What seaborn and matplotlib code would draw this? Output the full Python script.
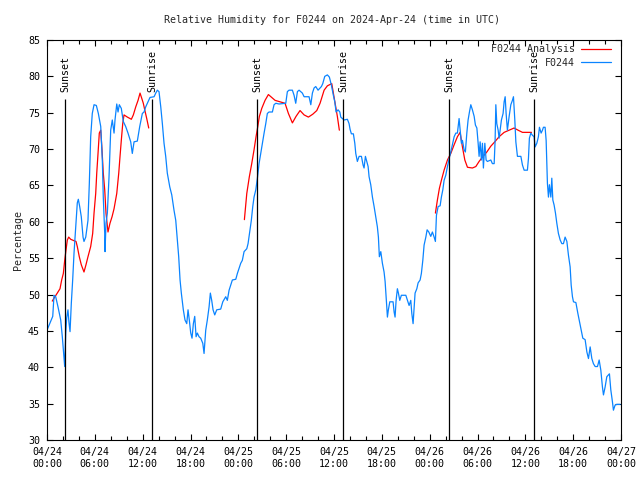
import matplotlib
matplotlib.use("Agg")
import matplotlib.pyplot as plt
import matplotlib.dates as mdates
import numpy as np
import pandas as pd
import seaborn as sns

# ---------------- data ----------------
start_time = "2024-04-24 00:00"   # UTC; times below are hours after this

# F0244 observations
blue_hours = [0.00, 0.38, 0.72, 0.88, 1.09, 1.38, 1.72, 1.92, 2.13, 2.22, 2.35, 2.47, 2.63, 2.76, 2.89,
              3.05, 3.22, 3.39, 3.60, 3.80, 3.93, 4.10, 4.30, 4.52, 4.64, 4.86, 5.14, 5.31, 5.48, 5.68,
              5.90, 6.19, 6.44, 6.74, 6.94, 7.06, 7.24, 7.28, 7.40, 7.57, 7.78, 7.99, 8.19, 8.41, 8.53,
              8.75, 8.91, 9.07, 9.32, 9.57, 9.87, 10.16, 10.50, 10.70, 10.92, 11.33, 11.63, 11.96, 12.17,
              12.38, 12.67, 12.92, 13.43, 13.64, 13.84, 14.05, 14.27, 14.47, 14.68, 14.89, 15.09, 15.40,
              15.65, 15.93, 16.15, 16.35, 16.52, 16.69, 16.85, 17.10, 17.31, 17.53, 17.69, 17.85, 18.03,
              18.19, 18.36, 18.53, 18.70, 18.86, 19.07, 19.28, 19.54, 19.70, 19.91, 20.11, 20.33, 20.49,
              20.66, 20.83, 21.04, 21.29, 21.79, 22.05, 22.42, 22.62, 22.84, 23.05, 23.25, 23.68, 23.88,
              24.09, 24.30, 24.50, 24.72, 25.06, 25.22, 25.47, 25.63, 25.81, 25.97, 26.19, 26.39, 26.60,
              26.81, 27.01, 27.23, 27.44, 27.64, 27.85, 28.27, 28.48, 28.70, 29.11, 29.95, 30.15, 30.36,
              30.78, 30.99, 31.20, 31.41, 31.62, 32.03, 32.25, 32.87, 33.09, 33.29, 33.50, 33.71, 34.00,
              34.42, 34.59, 34.84, 35.17, 35.42, 35.67, 35.92, 36.10, 36.26, 36.51, 36.73, 36.85, 37.05,
              37.26, 37.68, 37.89, 38.02, 38.18, 38.43, 38.61, 38.73, 38.93, 39.15, 39.44, 39.65, 39.77,
              39.94, 40.11, 40.28, 40.40, 40.61, 40.82, 41.03, 41.24, 41.44, 41.57, 41.69, 41.87, 42.07,
              42.28, 42.41, 42.53, 42.62, 42.70, 42.82, 43.00, 43.41, 43.54, 43.66, 43.79, 43.95, 44.08,
              44.25, 44.45, 45.01, 45.21, 45.42, 45.63, 45.76, 45.92, 46.05, 46.17, 46.39, 46.55, 46.80,
              46.96, 47.14, 47.30, 47.52, 47.68, 47.89, 48.14, 48.34, 48.56, 48.72, 48.85, 49.06, 49.31,
              49.47, 49.65, 49.81, 50.02, 50.23, 50.44, 50.65, 50.85, 51.07, 51.28, 51.48, 51.69, 51.82,
              51.98, 52.11, 52.32, 52.48, 52.66, 52.82, 52.99, 53.16, 53.36, 53.58, 53.74, 53.92, 54.08,
              54.20, 54.33, 54.49, 54.62, 54.74, 54.92, 55.08, 55.24, 55.67, 55.87, 56.09, 56.21, 56.30,
              56.42, 56.59, 56.71, 56.84, 57.00, 57.21, 57.34, 57.47, 57.59, 57.75, 57.97, 58.18, 58.38,
              58.51, 58.68, 58.81, 59.01, 59.44, 59.64, 59.85, 60.26, 60.39, 60.51, 60.69, 60.89, 61.10,
              61.23, 61.44, 61.64, 61.77, 61.98, 62.15, 62.27, 62.48, 62.61, 62.70, 62.77, 62.90, 63.02,
              63.20, 63.32, 63.45, 63.61, 63.78, 63.95, 64.15, 64.37, 64.58, 64.78, 64.99, 65.21, 65.41,
              65.62, 65.75, 65.91, 66.04, 66.34, 66.59, 66.79, 67.00, 67.21, 67.50, 67.72, 67.92, 68.13,
              68.34, 68.54, 68.76, 69.05, 69.26, 69.47, 69.67, 69.80, 70.01, 70.22, 70.55, 70.72, 70.92,
              71.05, 71.26, 71.48, 71.89]
blue_values = [45.1, 46.1, 47.0, 49.9, 49.7, 48.3, 46.5, 44.2, 41.4, 40.1, 44.7, 46.8, 47.9, 46.1, 44.9,
               48.8, 52.0, 55.7, 59.3, 62.6, 63.1, 62.1, 60.7, 57.9, 57.3, 57.9, 60.2, 65.3, 71.7, 74.9,
               76.1, 76.0, 74.9, 73.1, 68.5, 63.4, 58.4, 55.9, 59.8, 61.2, 66.2, 72.6, 74.0, 72.2, 74.0,
               76.2, 75.1, 76.1, 75.6, 73.8, 73.1, 72.2, 71.0, 69.4, 71.0, 71.1, 73.1, 74.9, 75.1,
               75.8, 76.5, 77.1, 77.2, 77.7, 78.1, 77.9, 75.8, 73.5, 70.8, 69.0, 66.7, 64.8,
               63.7, 61.6, 60.2, 57.5, 55.2, 52.0, 50.2, 47.9, 46.5, 46.0, 47.9, 46.5, 44.7,
               44.0, 46.0, 47.0, 44.2, 44.7, 44.2, 44.0, 43.3, 41.9, 45.1, 46.5, 48.3, 50.2,
               49.2, 47.9, 47.2, 47.9, 48.0, 49.0, 49.7, 49.2, 50.6, 51.3, 52.0, 52.1, 52.9,
               53.6, 54.3, 54.7, 55.9, 56.3, 57.0, 58.9, 60.2, 62.1, 63.4, 64.4, 66.0, 68.0,
               69.4, 70.8, 72.2, 73.5, 74.9, 75.1, 75.1, 76.1, 76.3, 76.2, 76.3, 77.9, 78.1,
               78.1, 77.4, 76.3, 77.9, 78.1, 77.7, 77.2, 77.2, 76.1, 77.7, 78.4, 78.6, 78.1,
               78.6, 79.0, 80.0, 80.2, 79.9, 78.8, 77.4, 76.5, 75.1, 75.4, 75.1, 74.4, 74.2,
               74.0, 74.1, 73.5, 72.7, 72.1, 72.1, 70.8, 69.4, 68.3, 69.0, 69.0, 67.8, 67.4,
               69.0, 68.3, 67.6, 66.2, 65.1, 63.4, 62.1, 60.7, 59.3, 57.9, 55.2, 55.9, 54.3,
               53.1, 51.8, 49.9, 48.3, 46.9, 47.9, 49.0, 49.0, 47.6, 46.9, 49.2, 50.8, 50.2,
               49.2, 49.9, 49.9, 49.2, 48.5, 49.2, 47.4, 46.0, 48.3, 50.2, 50.8, 51.6, 52.0,
               52.9, 54.7, 56.8, 57.9, 58.9, 58.6, 58.0, 58.6, 57.9, 57.3, 60.9, 62.1, 62.2,
               63.4, 64.4, 65.7, 66.4, 67.6, 68.7, 69.6, 70.6, 71.7, 72.2, 72.2, 74.2, 72.6,
               70.8, 71.2, 69.9, 69.6, 72.2, 74.0, 75.1, 76.1, 75.4, 74.5, 73.3, 72.9, 70.8,
               69.0, 71.0, 68.5, 70.8, 67.4, 70.8, 68.5, 68.3, 68.5, 68.0, 68.0, 71.2, 76.1,
               73.5, 72.6, 71.5, 72.6, 74.0, 74.9, 76.5, 77.2, 74.9, 72.6, 74.5, 76.1, 76.7,
               77.2, 74.0, 71.0, 69.0, 69.0, 67.8, 67.1, 67.1, 68.7, 71.5, 72.2, 71.9, 71.7,
               70.3, 70.8, 71.7, 73.0, 72.2, 72.6, 73.0, 73.0, 71.2, 67.8, 65.3, 63.4, 65.1,
               63.4, 66.0, 63.0, 62.3, 61.2, 59.8, 58.4, 57.5, 57.0, 57.0, 57.9, 57.3, 55.4,
               53.8, 51.3, 49.7, 49.0, 48.9, 47.4, 46.3, 45.1, 44.0, 43.8, 42.1, 41.2, 42.8,
               41.2, 40.5, 40.1, 40.1, 41.0, 39.6, 37.3, 36.2, 37.3, 38.7, 39.1, 36.9, 35.3,
               34.1, 34.8, 34.9, 34.9]

# F0244 Analysis (three separate runs)
analysis_hours = [
    [0.66, 0.88, 1.29, 1.63, 1.84, 2.05, 2.22, 2.38, 2.55, 2.72, 2.97, 3.39, 3.64, 3.80, 4.05, 4.30,
     4.64, 4.89, 5.14, 5.48, 5.73, 5.90, 6.11, 6.24, 6.40, 6.56, 6.74, 6.90, 7.06, 7.24, 7.40, 7.65,
     7.90, 8.16, 8.41, 8.75, 9.00, 9.16, 9.32, 9.50, 9.66, 10.08, 10.58, 10.83, 11.13, 11.42, 11.67,
     11.88, 12.08, 12.26, 12.51, 12.76],
    [24.76, 25.06, 25.38, 25.68, 25.97, 26.22, 26.44, 26.64, 26.94, 27.35, 27.77, 28.19, 28.61, 29.23,
     29.86, 30.28, 30.78, 31.24, 31.74, 32.25, 32.79, 33.34, 33.84, 34.25, 34.76, 35.17, 35.72, 35.92,
     36.14, 36.42, 36.67],
    [48.72, 48.97, 49.22, 49.47, 49.81, 50.23, 50.65, 51.07, 51.48, 51.82, 52.11, 52.41, 52.74, 53.36,
     53.79, 54.20, 54.62, 55.17, 55.67, 56.17, 56.71, 57.34, 57.97, 58.59, 59.09, 59.64, 60.26, 60.77],
]
analysis_values = [
    [49.1, 49.5, 50.2, 50.8, 52.0, 52.9, 54.7, 56.1, 57.5, 57.9, 57.6, 57.4, 57.3, 56.6, 55.2, 54.1,
     53.1, 54.1, 55.2, 56.6, 58.4, 61.2, 63.9, 66.7, 69.4, 72.2, 72.6, 69.9, 66.7, 64.4, 61.2, 58.6,
     59.8, 60.7, 61.8, 63.9, 66.7, 69.0, 71.2, 73.5, 74.7, 74.4, 74.1, 74.7, 75.8, 76.7, 77.7,
     77.0, 76.3, 75.4, 74.2, 72.9],
    [60.3, 63.9, 66.2, 68.0, 69.9, 71.7, 73.1, 74.5, 75.6, 76.7, 77.5, 77.1, 76.7, 76.5,
     76.3, 74.9, 73.6, 74.5, 75.3, 74.7, 74.4, 74.8, 75.3, 76.3, 78.1, 78.7, 79.0, 77.7,
     76.3, 74.5, 72.6],
    [61.2, 63.0, 64.6, 65.7, 67.1, 68.5, 69.4, 70.6, 71.7, 72.3, 70.3, 68.5, 67.5, 67.4,
     67.6, 68.3, 68.9, 69.6, 70.4, 71.0, 71.7, 72.3, 72.6, 72.9, 72.6, 72.3, 72.3, 72.3],
]

sunset_hours = [2.30, 26.39, 50.48]
sunrise_hours = [13.21, 37.18, 61.14]
sun_line_top = 76.9
sun_label_base = 77.9

y_ticks = list(range(30, 90, 5))
title = "Relative Humidity for F0244 on 2024-Apr-24 (time in UTC)"
y_label = "Percentage"
obs_label = "F0244"
ana_label = "F0244 Analysis"

# ---------------- plotting ----------------
sns.set_style("ticks")
plt.rcParams['font.family'] = ['DejaVu Sans Mono']
plt.rcParams['font.size'] = 7.2

t0 = pd.Timestamp(start_time)
def to_time(hours):
    return t0 + pd.to_timedelta(np.asarray(hours), unit='h')

fig = plt.figure(figsize=(6.4, 4.8), dpi=100)
ax = fig.add_axes([47 / 640, 40 / 480, 574 / 640, 400 / 480])

red = '#ff0000'
blue = '#0a84ff'

for i, (h, v) in enumerate(zip(analysis_hours, analysis_values)):
    df = pd.DataFrame({'time': to_time(h), 'rh': v})
    sns.lineplot(data=df, x='time', y='rh', ax=ax, color=red, linewidth=0.9,
                 label=ana_label if i == 0 else None, legend=False)

obs_df = pd.DataFrame({'time': to_time(blue_hours), 'rh': blue_values})
sns.lineplot(data=obs_df, x='time', y='rh', ax=ax, color=blue, linewidth=0.9,
             label=obs_label, legend=False)

# sunrise / sunset markers
for name, hours in (("Sunset", sunset_hours), ("Sunrise", sunrise_hours)):
    for t in to_time(hours):
        ax.vlines(t, 30, sun_line_top, color='black', linewidth=0.9)
        ax.text(t, sun_label_base, name, rotation=90, ha='center', va='bottom',
                fontsize=7.2, color='black')

ax.set_xlim(t0, t0 + pd.Timedelta(hours=72))
ax.set_ylim(30, 85)
ax.set_yticks(y_ticks)
ax.xaxis.set_major_locator(mdates.HourLocator(byhour=[0, 6, 12, 18]))
ax.xaxis.set_major_formatter(mdates.DateFormatter('%m/%d\n%H:%M'))
ax.xaxis.set_minor_locator(mdates.HourLocator(byhour=list(range(0, 24, 2))))
ax.tick_params(which='both', direction='in', top=True, right=True, color='black',
               width=0.8, labelsize=7.2, labelcolor='black')
ax.tick_params(which='major', length=4.5, pad=5)
ax.tick_params(which='minor', length=3)
ax.tick_params(axis='y', which='minor', length=0)
for s in ax.spines.values():
    s.set_color('black')
    s.set_linewidth(0.8)
ax.grid(False)
ax.set_xlabel('')
ax.set_ylabel('')

fig.text(0.519, 1 - 20 / 480, title, ha='center', va='center', fontsize=7.2)
fig.text(18 / 640, 0.5, y_label, rotation=90, ha='center', va='center', fontsize=7.2)

handles, labels = ax.get_legend_handles_labels()
order = [labels.index(ana_label), labels.index(obs_label)]
ax.legend([handles[i] for i in order], [labels[i] for i in order],
          loc='upper right', bbox_to_anchor=(0.982, 0.989), frameon=False,
          markerfirst=False, handlelength=3.0, handletextpad=0.6,
          labelspacing=0.35, borderpad=0.0, borderaxespad=0.0, fontsize=7.2)

fig.savefig('out.png', dpi=100)
